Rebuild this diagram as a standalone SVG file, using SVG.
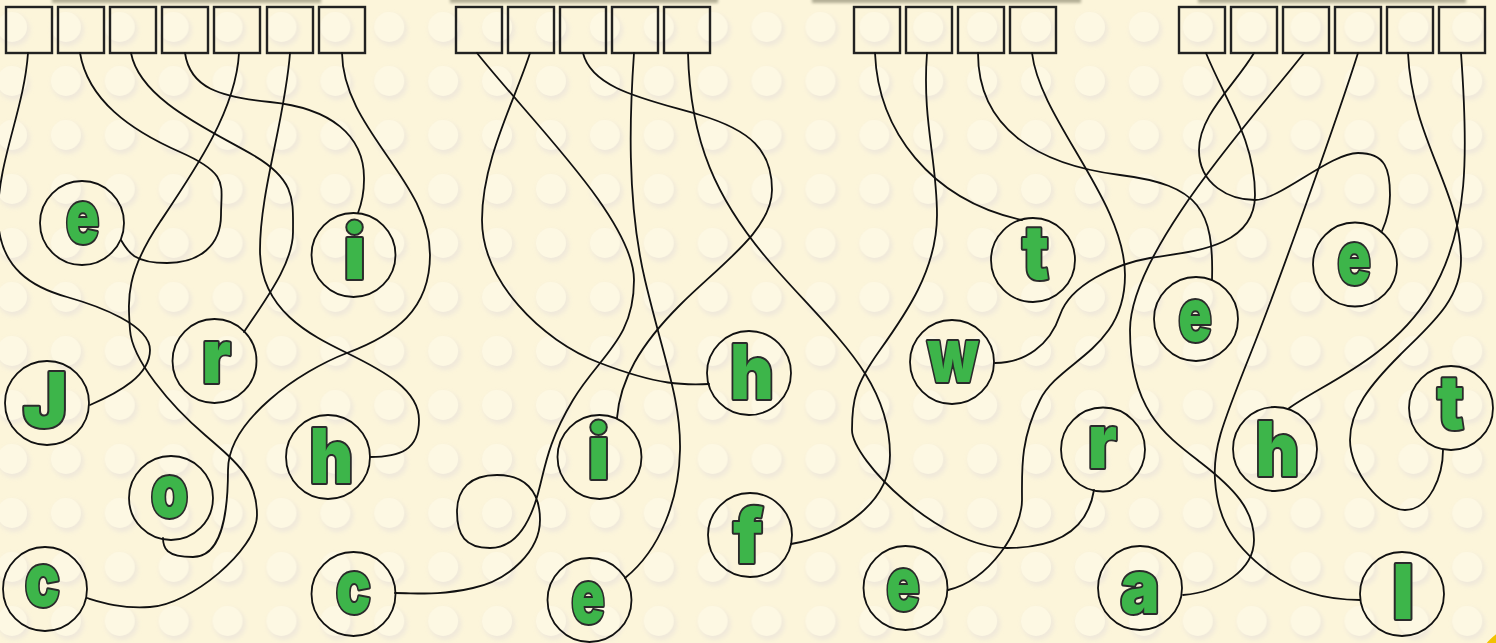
<svg xmlns="http://www.w3.org/2000/svg" width="1496" height="643" viewBox="0 0 1496 643">
<defs>
<filter id="blur2" x="-50%" y="-50%" width="200%" height="200%"><feGaussianBlur stdDeviation="2.2"/></filter>
<filter id="barShadow" x="-5%" y="-200%" width="110%" height="500%"><feGaussianBlur stdDeviation="1.6"/></filter>
<pattern id="studs" patternUnits="userSpaceOnUse" x="-15" y="0" width="53.9" height="54">
<circle cx="29" cy="30" r="16" fill="#ece5da" opacity="0.75" filter="url(#blur2)"/>
<circle cx="27" cy="27" r="15" fill="#fdf8e3"/>
</pattern>
</defs>
<style>
.box{fill:none;stroke:#222;stroke-width:2.4}
.node{fill:none;stroke:#111;stroke-width:1.8}
.wire{fill:none;stroke:#111;stroke-width:1.8;stroke-linecap:round}
.L{font-family:Inter,"Noto Sans",sans-serif;font-weight:900;font-size:75px;fill:#3db54a;stroke:#2b2b2b;stroke-width:4;paint-order:stroke fill;stroke-linejoin:round;text-anchor:middle}
.bar{fill:#b3af95}
</style>
<rect width="1496" height="643" fill="#fcf5da"/>
<rect width="1496" height="643" fill="url(#studs)"/>
<circle cx="1540" cy="690" r="71" fill="#f2c200"/>
<g id="trays" filter="url(#barShadow)">
<rect class="bar" x="52" y="-8" width="269" height="11"/>
<rect class="bar" x="450" y="-8" width="268" height="11"/>
<rect class="bar" x="812" y="-8" width="269" height="11"/>
<rect class="bar" x="1198" y="-8" width="268" height="11"/>
</g>
<g id="slots">
<g id="slot-1-1"><rect class="box" x="6" y="7" width="46" height="46"/></g>
<g id="slot-1-2"><rect class="box" x="58" y="7" width="46" height="46"/></g>
<g id="slot-1-3"><rect class="box" x="110" y="7" width="46" height="46"/></g>
<g id="slot-1-4"><rect class="box" x="162" y="7" width="46" height="46"/></g>
<g id="slot-1-5"><rect class="box" x="214" y="7" width="46" height="46"/></g>
<g id="slot-1-6"><rect class="box" x="267" y="7" width="46" height="46"/></g>
<g id="slot-1-7"><rect class="box" x="319" y="7" width="46" height="46"/></g>
<g id="slot-2-1"><rect class="box" x="456" y="7" width="46" height="46"/></g>
<g id="slot-2-2"><rect class="box" x="508" y="7" width="46" height="46"/></g>
<g id="slot-2-3"><rect class="box" x="560" y="7" width="46" height="46"/></g>
<g id="slot-2-4"><rect class="box" x="612" y="7" width="46" height="46"/></g>
<g id="slot-2-5"><rect class="box" x="664" y="7" width="46" height="46"/></g>
<g id="slot-3-1"><rect class="box" x="854" y="7" width="46" height="46"/></g>
<g id="slot-3-2"><rect class="box" x="906" y="7" width="46" height="46"/></g>
<g id="slot-3-3"><rect class="box" x="958" y="7" width="46" height="46"/></g>
<g id="slot-3-4"><rect class="box" x="1010" y="7" width="46" height="46"/></g>
<g id="slot-4-1"><rect class="box" x="1179" y="7" width="46" height="46"/></g>
<g id="slot-4-2"><rect class="box" x="1231" y="7" width="46" height="46"/></g>
<g id="slot-4-3"><rect class="box" x="1283" y="7" width="46" height="46"/></g>
<g id="slot-4-4"><rect class="box" x="1335" y="7" width="46" height="46"/></g>
<g id="slot-4-5"><rect class="box" x="1387" y="7" width="46" height="46"/></g>
<g id="slot-4-6"><rect class="box" x="1439" y="7" width="46" height="46"/></g>
</g>
<g id="connectors">
<path class="wire" d="M28,53 C24,110 -2,160 -2,215 C-2,270 35,288 67,297 S150,325 150,350 S120,392 90,405"/>
<path class="wire" d="M80,53 C88,100 130,130 180,152 S221,185 221,215 S200,263 167,263 S128,252 121,240"/>
<path class="wire" d="M131,53 C140,100 210,130 253,155 S293,200 293,232 S265,300 244,332"/>
<path class="wire" d="M185,53 C190,88 220,97 270,102 C330,108 365,135 364,180 C364,195 361,205 358,213"/>
<path class="wire" d="M239,53 C236,110 195,170 160,222 S128,300 130,330 S170,405 205,435 S257,480 257,515 S190,605 150,607 C120,609 100,602 87,598"/>
<path class="wire" d="M290,53 C285,120 260,190 260,250 S310,335 347,353 S419,390 419,420 S400,457 370,457"/>
<path class="wire" d="M342,53 C343,130 430,180 430,255 C430,310 395,335 347,353 C300,371 228,420 228,470 S220,557 193,557 S163,548 163,538"/>
<path class="wire" d="M477,53 C530,120 634,220 634,280 S600,355 573,400 S545,470 537,497 S515,548 490,548 S457,535 457,512 S470,475 497,475 S540,490 540,520 S510,580 473,588 S420,593 395,593"/>
<path class="wire" d="M530,53 C515,100 482,160 482,220 S540,340 600,363 S685,385 709,384"/>
<path class="wire" d="M583,53 C592,90 650,100 700,115 S772,150 772,190 S720,265 680,305 S620,380 617,418"/>
<path class="wire" d="M634,53 C630,110 626,200 645,280 S681,400 680,450 S660,550 625,578"/>
<path class="wire" d="M688,53 C690,140 715,200 775,268 S890,380 890,455 C890,500 845,535 791,544"/>
<path class="wire" d="M875,53 C878,130 930,200 1022,220"/>
<path class="wire" d="M927,53 C922,120 937,160 937,215 S905,315 880,350 S852,400 852,430 S940,548 1007,548 S1090,515 1094,490"/>
<path class="wire" d="M978,53 C978,130 1040,165 1120,175 S1214,210 1212,280"/>
<path class="wire" d="M1032,53 C1040,120 1125,200 1125,275 S1060,360 1040,400 S1022,470 1022,500 S990,580 948,590"/>
<path class="wire" d="M1206,53 C1225,100 1255,140 1255,195 S1185,252 1150,258 S1070,285 1060,315 S1025,363 995,363"/>
<path class="wire" d="M1254,53 C1235,85 1199,115 1199,150 S1230,200 1255,200 S1330,153 1358,153 S1390,170 1390,195 C1390,210 1386,222 1382,231"/>
<path class="wire" d="M1304,53 C1260,110 1130,250 1130,330 S1165,435 1200,462 S1254,510 1254,540 S1220,592 1183,595"/>
<path class="wire" d="M1358,53 C1340,110 1280,280 1250,355 S1213,450 1215,480 S1225,540 1270,573 C1300,595 1335,600 1360,600"/>
<path class="wire" d="M1408,53 C1412,140 1461,190 1461,260 C1461,300 1430,325 1400,355 S1350,410 1350,440 S1380,510 1405,510 S1443,475 1443,450"/>
<path class="wire" d="M1461,53 C1468,150 1470,230 1430,295 S1320,385 1288,409"/>
</g>
<g id="n-e1"><circle class="node" cx="82" cy="223" r="42"/><text class="L" transform="translate(82.5,243) scale(0.74,1)">e</text></g>
<g id="n-i1"><circle class="node" cx="353.5" cy="255" r="42"/><text class="L" transform="translate(354.5,279) scale(1,1)">i</text></g>
<g id="n-J"><circle class="node" cx="47" cy="403" r="42"/><text class="L" transform="translate(45,427) scale(1,1)">J</text></g>
<g id="n-r1"><circle class="node" cx="214.5" cy="361" r="42"/><text class="L" transform="translate(216.5,383) scale(0.9,1)">r</text></g>
<g id="n-h1"><circle class="node" cx="328" cy="457" r="42"/><text class="L" transform="translate(331.5,483) scale(0.9,1)">h</text></g>
<g id="n-o"><circle class="node" cx="171" cy="498" r="42"/><text class="L" transform="translate(169.5,517) scale(0.8,1)">o</text></g>
<g id="n-c1"><circle class="node" cx="45" cy="589" r="42"/><text class="L" transform="translate(42.5,606) scale(0.78,1)">c</text></g>
<g id="n-c2"><circle class="node" cx="353.5" cy="594" r="42"/><text class="L" transform="translate(353.5,613) scale(0.78,1)">c</text></g>
<g id="n-h2"><circle class="node" cx="749" cy="373" r="42"/><text class="L" transform="translate(752,399) scale(0.9,1)">h</text></g>
<g id="n-i2"><circle class="node" cx="599.5" cy="457" r="42"/><text class="L" transform="translate(598.5,479) scale(1,1)">i</text></g>
<g id="n-f"><circle class="node" cx="750" cy="535" r="42"/><text class="L" transform="translate(748,563) scale(0.95,1)">f</text></g>
<g id="n-e2"><circle class="node" cx="589.5" cy="600" r="42"/><text class="L" transform="translate(588,623) scale(0.74,1)">e</text></g>
<g id="n-t1"><circle class="node" cx="1033" cy="260" r="42"/><text class="L" transform="translate(1035.5,279) scale(0.9,1)">t</text></g>
<g id="n-w"><circle class="node" cx="952" cy="362" r="42"/><text class="L" transform="translate(953,382) scale(0.78,1)">w</text></g>
<g id="n-r2"><circle class="node" cx="1103" cy="449.5" r="42"/><text class="L" transform="translate(1102.5,468) scale(0.9,1)">r</text></g>
<g id="n-e3"><circle class="node" cx="905.5" cy="588" r="42"/><text class="L" transform="translate(903,610) scale(0.74,1)">e</text></g>
<g id="n-a"><circle class="node" cx="1140" cy="588" r="42"/><text class="L" transform="translate(1140,613) scale(0.88,1)">a</text></g>
<g id="n-e4"><circle class="node" cx="1196" cy="319" r="42"/><text class="L" transform="translate(1195,341) scale(0.74,1)">e</text></g>
<g id="n-e5"><circle class="node" cx="1355" cy="264.5" r="42"/><text class="L" transform="translate(1354,284) scale(0.74,1)">e</text></g>
<g id="n-h3"><circle class="node" cx="1275" cy="449" r="42"/><text class="L" transform="translate(1277.5,476) scale(0.9,1)">h</text></g>
<g id="n-t2"><circle class="node" cx="1451" cy="408" r="42"/><text class="L" transform="translate(1450.5,429) scale(0.9,1)">t</text></g>
<g id="n-l"><circle class="node" cx="1402" cy="594" r="42"/><text class="L" transform="translate(1403,619) scale(1,1)">l</text></g>
</svg>
